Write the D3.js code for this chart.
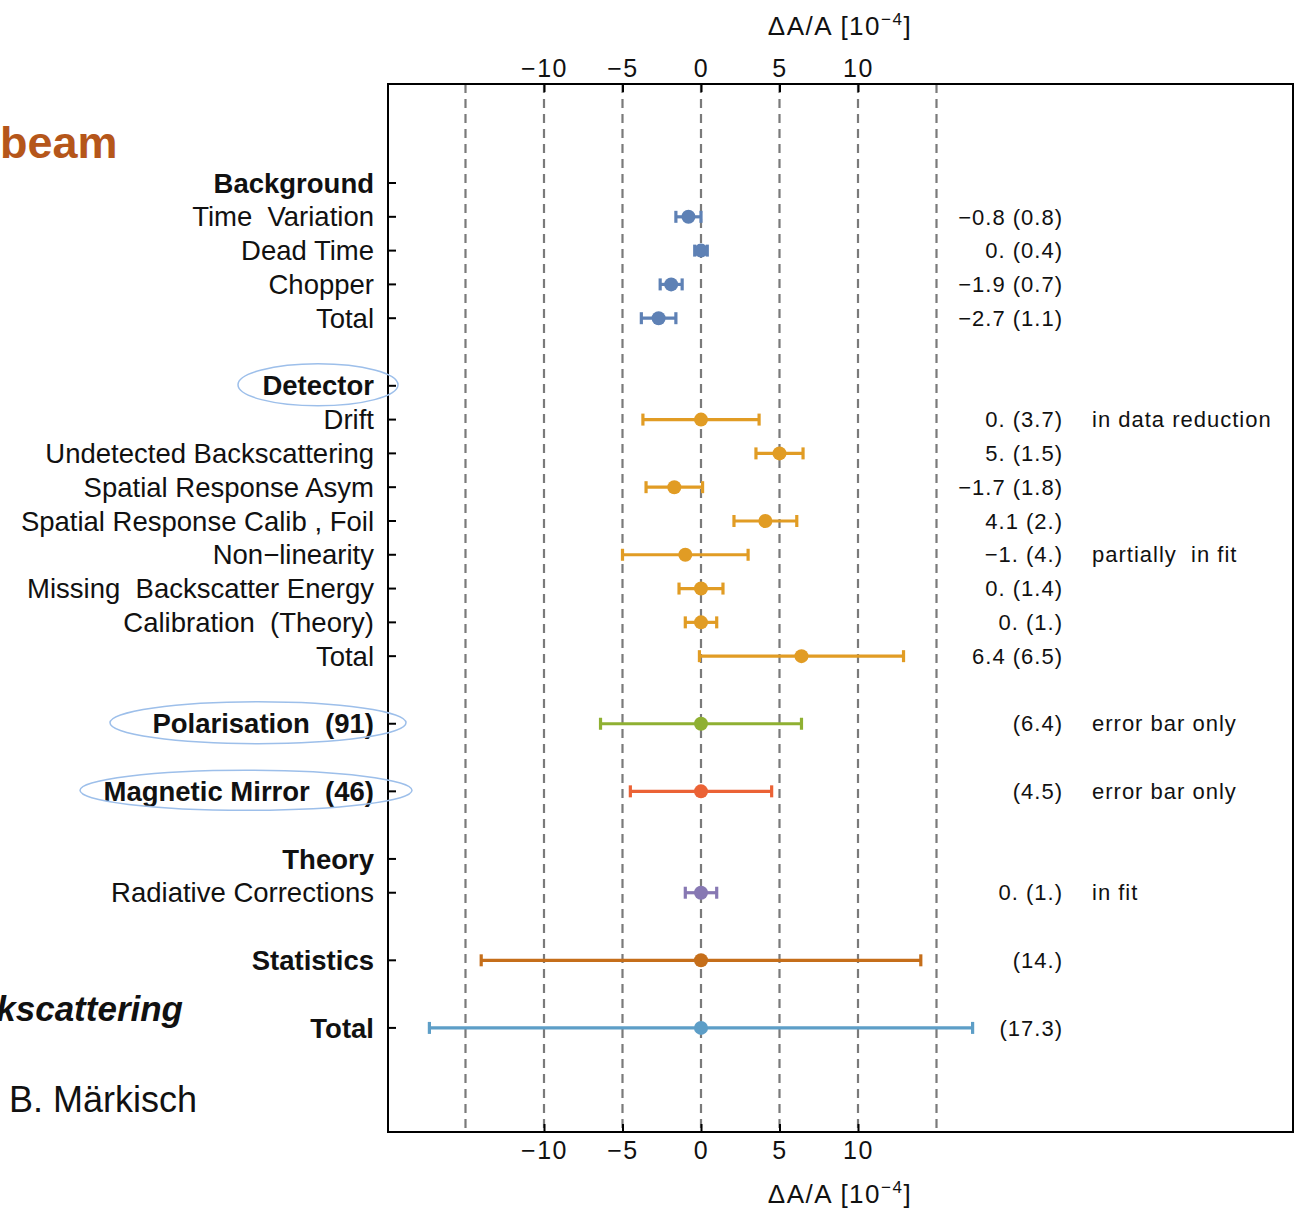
<!DOCTYPE html>
<html>
<head>
<meta charset="UTF-8">
<title>Error budget</title>
<script src="https://d3js.org/d3.v7.min.js"></script>
<style>
  body { margin: 0; background: #fff; }
  text { font-family: "Liberation Sans", Arial, sans-serif; fill: #111; }
  .rowlabel { font-size: 27.5px; text-anchor: end; }
  .bold { font-weight: bold; }
  .val { font-size: 22px; text-anchor: end; letter-spacing: 1px; }
  .note { font-size: 22px; letter-spacing: 1px; }
</style>
</head>
<body>
<script>
// rows: label, bold heading?, row index
const labels = ["Background", "Time  Variation", "Dead Time", "Chopper", "Total",
  "Detector", "Drift", "Undetected Backscattering", "Spatial Response Asym", "Spatial Response Calib , Foil",
  "Non\u2212linearity", "Missing  Backscatter Energy", "Calibration  (Theory)", "Total",
  "Polarisation  (91)", "Magnetic Mirror  (46)", "Theory", "Radiative Corrections", "Statistics", "Total"];
const heading = [1, 0, 0, 0, 0, 1, 0, 0, 0, 0, 0, 0, 0, 0, 1, 1, 1, 0, 1, 1];
const rowIndex = [0, 1, 2, 3, 4, 6, 7, 8, 9, 10, 11, 12, 13, 14, 16, 18, 20, 21, 23, 25];
const groups = ["", "bg", "bg", "bg", "bg", "", "det", "det", "det", "det", "det", "det", "det", "det",
  "pol", "mir", "", "th", "stat", "tot"];
// central value (null = error bar only) and uncertainty, units 1e-4
const values = [null, -0.8, 0, -1.9, -2.7, null, 0, 5, -1.7, 4.1, -1, 0, 0, 6.4, null, null, null, 0, null, null];
const errors = [null, 0.8, 0.4, 0.7, 1.1, null, 3.7, 1.5, 1.8, 2, 4, 1.4, 1, 6.5, 6.4, 4.5, null, 1, 14, 17.3];
const notes = ["", "", "", "", "", "", "in data reduction", "", "", "", "partially  in fit", "", "", "",
  "error bar only", "error bar only", "", "in fit", "", ""];
const xTicks = [-10, -5, 0, 5, 10];
const gridLines = [-15, -10, -5, 0, 5, 10, 15];
const circled = ["Detector", "Polarisation  (91)", "Magnetic Mirror  (46)"];

const groupColor = {bg: "#5e81b5", det: "#e19c24", pol: "#8fb032", mir: "#eb6235",
  th: "#8778b3", stat: "#c56e1a", tot: "#5d9ec7"};

const W = 1299, H = 1209;
const frame = {left: 388, top: 84, right: 1293, bottom: 1132};

const svg = d3.select("body").append("svg").attr("width", W).attr("height", H);

const x = d3.scaleLinear().domain([-10, 10]).range([544, 858]);
const y = d3.scaleLinear().domain([-2.93, 28.08]).range([frame.top, frame.bottom]);

// dashed grid
svg.append("g").selectAll("line").data(gridLines).join("line")
  .attr("x1", d => x(d)).attr("x2", d => x(d))
  .attr("y1", frame.top).attr("y2", frame.bottom)
  .attr("stroke", "#7a7a7a").attr("stroke-width", 2.2)
  .attr("stroke-dasharray", "9,6");

// top / bottom axes
const fmt = d => d < 0 ? "\u2212" + Math.abs(d) : String(d);
const axTop = svg.append("g").attr("transform", `translate(0,${frame.top})`)
  .call(d3.axisTop(x).tickValues(xTicks).tickSizeInner(-8).tickSizeOuter(0).tickPadding(7).tickFormat(fmt));
const axBot = svg.append("g").attr("transform", `translate(0,${frame.bottom})`)
  .call(d3.axisBottom(x).tickValues(xTicks).tickSizeInner(-8).tickSizeOuter(0).tickPadding(9).tickFormat(fmt));
[axTop, axBot].forEach(a => {
  a.select(".domain").remove();
  a.selectAll(".tick line").attr("stroke", "#000").attr("stroke-width", 2);
  a.selectAll(".tick text").attr("fill", "#111")
    .style("font-family", "Liberation Sans, Arial, sans-serif")
    .style("font-size", "25px").style("letter-spacing", "1.5px");
});

// frame
svg.append("rect")
  .attr("x", frame.left).attr("y", frame.top)
  .attr("width", frame.right - frame.left).attr("height", frame.bottom - frame.top)
  .attr("fill", "none").attr("stroke", "#000").attr("stroke-width", 2);

// axis titles
function axisTitle(yy) {
  const t = svg.append("text").attr("x", 840).attr("y", yy).attr("text-anchor", "middle")
    .style("font-size", "26px").style("letter-spacing", "1.5px");
  t.append("tspan").text("\u0394A/A [10");
  t.append("tspan").attr("dy", -10).style("font-size", "17px").text("\u22124");
  t.append("tspan").attr("dy", 10).text("]");
}
axisTitle(35);
axisTitle(1203);

// left ticks and row labels
const rows = labels.map((l, i) => ({label: l, bold: heading[i], r: rowIndex[i], g: groups[i],
  v: values[i], e: errors[i], note: notes[i]}));

svg.append("g").selectAll("line").data(rows).join("line")
  .attr("x1", frame.left).attr("x2", frame.left + 8)
  .attr("y1", d => y(d.r)).attr("y2", d => y(d.r))
  .attr("stroke", "#000").attr("stroke-width", 2);

svg.append("g").selectAll("text").data(rows).join("text")
  .attr("class", d => "rowlabel" + (d.bold ? " bold" : ""))
  .attr("x", 374).attr("y", d => y(d.r)).attr("dy", "0.35em")
  .style("white-space", "pre")
  .text(d => d.label);

// highlight ellipses
const ellipses = [
  {label: circled[0], cx: 318, rx: 80, ry: 21},
  {label: circled[1], cx: 258, rx: 148, ry: 21},
  {label: circled[2], cx: 246, rx: 166, ry: 20}
];
svg.append("g").selectAll("ellipse").data(ellipses).join("ellipse")
  .attr("cx", d => d.cx)
  .attr("cy", d => y(rows.find(r => r.label === d.label).r) - 1)
  .attr("rx", d => d.rx).attr("ry", d => d.ry)
  .attr("fill", "none").attr("stroke", "#9dbfea").attr("stroke-width", 1.5);

// error bars
const bars = rows.filter(d => d.e != null);
const eb = svg.append("g").selectAll("g").data(bars).join("g")
  .attr("stroke", d => groupColor[d.g]).attr("fill", d => groupColor[d.g]);
const c = d => (d.v == null ? 0 : d.v);
eb.append("line")
  .attr("x1", d => x(c(d) - d.e)).attr("x2", d => x(c(d) + d.e))
  .attr("y1", d => y(d.r)).attr("y2", d => y(d.r))
  .attr("stroke-width", 3.2);
[-1, 1].forEach(s => {
  eb.append("line")
    .attr("x1", d => x(c(d) + s * d.e)).attr("x2", d => x(c(d) + s * d.e))
    .attr("y1", d => y(d.r) - 6).attr("y2", d => y(d.r) + 6)
    .attr("stroke-width", 3.2);
});
eb.append("circle")
  .attr("cx", d => x(c(d))).attr("cy", d => y(d.r)).attr("r", 7)
  .attr("stroke", "none");

// value text on the right
const num = v => {
  const s = Number.isInteger(v) ? Math.abs(v) + "." : String(Math.abs(v));
  return (v < 0 ? "\u2212" : "") + s;
};
svg.append("g").selectAll("text").data(bars).join("text")
  .attr("class", "val")
  .attr("x", 1063).attr("y", d => y(d.r)).attr("dy", "0.35em")
  .text(d => (d.v == null ? "" : num(d.v) + " ") + "(" + num(d.e) + ")");

svg.append("g").selectAll("text").data(rows.filter(d => d.note)).join("text")
  .attr("class", "note")
  .attr("x", 1092).attr("y", d => y(d.r)).attr("dy", "0.35em")
  .style("white-space", "pre")
  .text(d => d.note);

// slide fragments around the chart
svg.append("text").attr("x", 0).attr("y", 158)
  .style("font-size", "45px").style("font-weight", "bold").style("fill", "#b5561a")
  .text("beam");
svg.append("text").attr("x", 183).attr("y", 1021).attr("text-anchor", "end")
  .style("font-size", "35px").style("font-weight", "bold").style("font-style", "italic")
  .text("Backscattering");
svg.append("text").attr("x", 9).attr("y", 1112)
  .style("font-size", "36px")
  .text("B. Märkisch");
</script>
</body>
</html>
